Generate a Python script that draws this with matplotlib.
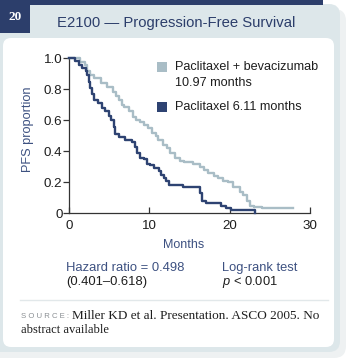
import matplotlib
matplotlib.use('Agg')
import matplotlib.pyplot as plt
from matplotlib.patches import FancyBboxPatch, Rectangle

plt.rcParams['font.family'] = ['Liberation Sans', 'DejaVu Sans']
plt.rcParams['mathtext.fontset'] = 'custom'
plt.rcParams['mathtext.it'] = 'Liberation Sans:italic'
plt.rcParams['mathtext.rm'] = 'Liberation Sans'

NAVY = '#2c3e6b'
TEXT_BLUE = '#3d5181'
DARK = '#1e1e1e'

# Kaplan-Meier steps
pac_t = [0, 0.8, 1.3, 1.7, 2.1, 2.3, 2.5, 2.7, 2.9, 3.1, 3.7, 4.1, 4.5, 5.0,
         5.3, 5.6, 5.8, 6.2, 7.0, 7.9, 8.2, 8.5, 8.8, 9.3, 9.7, 10.1, 10.6,
         11.2, 11.5, 11.8, 12.1, 12.4, 14.2, 16.3, 16.6, 17.0, 18.9, 19.6,
         20.2, 23.2]
pac_s = [1.0, 0.98, 0.96, 0.94, 0.92, 0.89, 0.85, 0.81, 0.77, 0.73, 0.71, 0.68,
         0.66, 0.63, 0.60, 0.56, 0.51, 0.49, 0.47, 0.46, 0.43, 0.39, 0.36, 0.35,
         0.32, 0.31, 0.29, 0.27, 0.25, 0.23, 0.21, 0.18, 0.17, 0.13, 0.08,
         0.065, 0.05, 0.032, 0.02, 0.0]

bev_t = [0, 1.4, 2.0, 2.3, 2.6, 3.2, 4.0, 4.8, 5.5, 5.9, 6.2, 6.6, 6.9, 7.5,
         8.0, 8.4, 8.9, 9.4, 9.8, 10.3, 10.8, 11.1, 11.7, 12.2, 12.6, 13.2,
         13.8, 14.3, 15.5, 16.3, 16.8, 17.3, 18.0, 18.6, 19.2, 19.8, 20.4,
         21.3, 21.7, 22.2, 22.5, 23.0, 24.0, 27.9]
bev_s = [1.0, 0.975, 0.955, 0.92, 0.89, 0.87, 0.84, 0.815, 0.785, 0.76, 0.73,
         0.70, 0.685, 0.66, 0.62, 0.60, 0.59, 0.57, 0.55, 0.52, 0.50, 0.47,
         0.44, 0.42, 0.39, 0.36, 0.34, 0.33, 0.32, 0.30, 0.28, 0.26, 0.24,
         0.225, 0.21, 0.20, 0.17, 0.14, 0.115, 0.08, 0.05, 0.04, 0.032, 0.032]

series_labels = ['Paclitaxel + bevacizumab\n10.97 months', 'Paclitaxel 6.11 months']
series_colors = ['#a9bdc6', '#2e4372']

x_ticks = [0, 10, 20, 30]
y_ticks = [0, 0.2, 0.4, 0.6, 0.8, 1.0]
y_tick_labels = ['0', '0.2', '0.4', '0.6', '0.8', '1.0']

fig = plt.figure(figsize=(3.5, 3.61), dpi=100)

# background drawn in pixel coordinates
bg = fig.add_axes([0, 0, 1, 1], zorder=-5)
bg.set_xlim(0, 350)
bg.set_ylim(361, 0)
bg.axis('off')

bg.add_patch(FancyBboxPatch((-20, 9), 366, 349, boxstyle='round,pad=0,rounding_size=12',
                            fc='#eef1f2', ec='none'))
bg.add_patch(FancyBboxPatch((-20, 4), 360, 348, boxstyle='round,pad=0,rounding_size=11',
                            fc='#dde7ea', ec='none'))
bg.add_patch(Rectangle((0, 0), 323, 5, fc=NAVY, ec='none'))
bg.add_patch(Rectangle((0, 0), 30, 33, fc=NAVY, ec='none'))
bg.add_patch(FancyBboxPatch((3, 38), 331, 309, boxstyle='round,pad=0,rounding_size=8',
                            fc='white', ec='none'))
bg.plot([20, 328], [300, 300], color='#e2e8ea', lw=1)

bg.text(15, 17, '20', color='white', fontsize=9.5, fontweight='bold',
        family='Liberation Serif', ha='center', va='center')
bg.text(176, 23, 'E2100 \u2014 Progression-Free Survival', color=NAVY,
        fontsize=10.7, ha='center', va='center')

# main plot
ax = fig.add_axes([68.7 / 350, 1 - 213.3 / 361, 241.5 / 350, 155 / 361])
ax.set_facecolor('none')
ax.step(bev_t, bev_s, where='post', color=series_colors[0], lw=1.7, clip_on=False, zorder=3)
ax.step(pac_t, pac_s, where='post', color=series_colors[1], lw=1.7, clip_on=False, zorder=4)
ax.set_xlim(0, 30)
ax.set_ylim(0, 1)
ax.set_xticks(x_ticks)
ax.set_yticks(y_ticks)
ax.set_yticklabels(y_tick_labels)
for side in ['top', 'right']:
    ax.spines[side].set_visible(False)
for side in ['left', 'bottom']:
    ax.spines[side].set_color('#333333')
    ax.spines[side].set_linewidth(0.9)
ax.tick_params(axis='x', direction='in', length=4, width=0.9, color='#333333',
               labelsize=9.6, labelcolor=DARK, pad=5)
ax.tick_params(axis='y', direction='out', length=4, width=0.9, color='#333333',
               labelsize=9.6, labelcolor=DARK, pad=0.5)

bg.text(28, 129, 'PFS proportion', rotation=90, color=TEXT_BLUE, fontsize=9.2,
        ha='center', va='center')
bg.text(184, 245, 'Months', color=TEXT_BLUE, fontsize=9.0, ha='center', va='center')

# legend
leg_y = [62, 102]
for label, color, y in zip(series_labels, series_colors, leg_y):
    bg.add_patch(Rectangle((157, y), 10, 10, fc=color, ec='none'))
    bg.text(175, y - 1, label, color=DARK, fontsize=9.1, ha='left', va='top',
            linespacing=1.45)

# stats
bg.text(66, 268, 'Hazard ratio = 0.498', color=TEXT_BLUE, fontsize=9.4, va='center')
bg.text(66, 282, '(0.401\u20130.618)', color=DARK, fontsize=9.4, va='center')
bg.text(222, 268, 'Log-rank test', color=TEXT_BLUE, fontsize=9.3, va='center')
bg.text(222, 282, '$p$ < 0.001', color=DARK, fontsize=9.3, va='center')

# source
bg.text(21, 316, 'S O U R C E :', color='#8a8f93', fontsize=5.6, va='center')
bg.text(72, 316, 'Miller KD et al. Presentation. ASCO 2005. No', color=DARK,
        fontsize=9.5, family='Liberation Serif', va='center')
bg.text(21, 330, 'abstract available', color=DARK, fontsize=9.0,
        family='Liberation Serif', va='center')

fig.savefig('out.png', dpi=100)
